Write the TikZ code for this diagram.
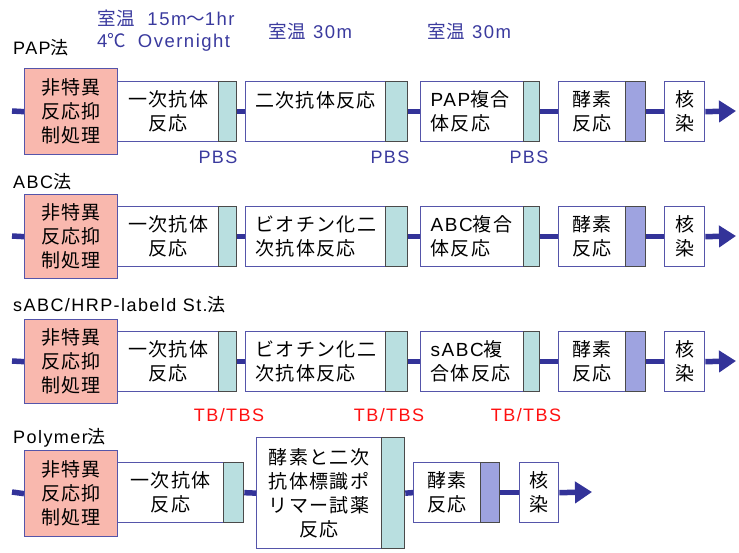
\documentclass[tikz,border=0pt]{standalone}
\usepackage{fontspec}
\setmainfont{Liberation Sans}[LetterSpace=8]
\newfontfamily\jp{Noto Sans CJK JP}[LetterSpace=7]
\usetikzlibrary{arrows.meta}
\newcommand\la[1]{{\rmfamily #1}}
\definecolor{lineblue}{HTML}{333399}
\definecolor{txtblue}{HTML}{3A3A9E}
\definecolor{pinkf}{HTML}{F9B8AE}
\definecolor{tealf}{HTML}{B9DFE0}
\definecolor{purpf}{HTML}{9EA3E0}
\definecolor{boxdraw}{HTML}{5555AA}
\definecolor{bardraw}{HTML}{4A4A4A}
\definecolor{tbred}{HTML}{FF1010}
\tikzset{
  box/.style={draw=boxdraw, line width=1.3pt, fill=white, inner sep=0pt, anchor=north west,
    align=center, font=\jp\fontsize{19}{24}\selectfont},
  pinkbox/.style={box, fill=pinkf},
  lbox/.style={box, align=left, inner xsep=10pt},
  tbar/.style={draw=bardraw, line width=1.3pt, fill=tealf, inner sep=0pt, anchor=north west},
  pbar/.style={tbar, fill=purpf},
  conn/.style={draw=lineblue, line width=5.5pt},
  arr/.style={conn, -{Triangle[length=17pt,width=21pt]}},
  rowlab/.style={inner sep=0pt, anchor=west, font=\fontsize{18}{22}\selectfont},
  toplab/.style={inner sep=0pt, anchor=west, text=txtblue, font=\fontsize{18.5}{22}\selectfont},
  wash/.style={inner sep=0pt, text=txtblue, font=\fontsize{18}{22}\selectfont},
  tbs/.style={inner sep=0pt, text=tbred, font=\fontsize{18}{22}\selectfont}
}
\begin{document}
\begin{tikzpicture}[x=1pt,y=-1pt]
\useasboundingbox (0,0) rectangle (739,552);
% top labels
\node[toplab] (tl1) at (97,18) {{\jp 室温}\hspace{12pt}15m{\jp 〜}1hr};
\node[toplab] (tl2) at (97,42) {4{\jp ℃}\hspace{12pt}Overnight};
\node[toplab] (tl3) at (268,31) {{\jp 室温} 30m};
\node[toplab] (tl4) at (427,31) {{\jp 室温} 30m};
% ---------- Row 1 PAP
\node[rowlab] (r1) at (13,48) {PAP{\jp 法}};
\node[pinkbox, minimum width=93pt, minimum height=86pt] (p1) at (24,68) {非特異\\反応抑\\制処理};
\node[box, minimum width=101pt, minimum height=60pt] (a1) at (117,81) {一次抗体\\反応};
\node[tbar, minimum width=18pt, minimum height=60pt] (a1w) at (218,81) {};
\node[box, minimum width=140pt, minimum height=60pt] (b1) at (245,81) {二次抗体反応\\\mbox{}};
\node[tbar, minimum width=22pt, minimum height=60pt] (b1w) at (385,81) {};
\node[lbox, text width=83pt, minimum width=103pt, minimum height=60pt] (c1) at (420,81) {\la{PAP}複合\\体反応};
\node[tbar, minimum width=16pt, minimum height=60pt] (c1w) at (523,81) {};
\node[box, minimum width=67pt, minimum height=60pt] (d1) at (558,81) {酵素\\反応};
\node[pbar, minimum width=20pt, minimum height=60pt] (d1w) at (625,81) {};
\node[box, minimum width=40pt, minimum height=60pt] (e1) at (664,81) {核\\染};
\coordinate (s1) at (12,111);
\coordinate (z1) at (736,111);
\draw[conn] (s1) -- (p1.west);
\draw[conn] (a1w.east) -- (b1.west);
\draw[conn] (b1w.east) -- (c1.west);
\draw[conn] (c1w.east) -- (d1.west);
\draw[conn] (d1w.east) -- (e1.west);
\draw[arr] (e1.east) -- (z1);
\node[wash] (w1) at (218,157) {PBS};
\node[wash] (w2) at (390,157) {PBS};
\node[wash] (w3) at (529,157) {PBS};
% ---------- Row 2 ABC
\node[rowlab] (r2) at (13,182) {ABC{\jp 法}};
\node[pinkbox, minimum width=93pt, minimum height=84pt] (p2) at (24,194) {非特異\\反応抑\\制処理};
\node[box, minimum width=101pt, minimum height=60pt] (a2) at (117,206) {一次抗体\\反応};
\node[tbar, minimum width=18pt, minimum height=60pt] (a2w) at (218,206) {};
\node[lbox, text width=120pt, minimum width=140pt, minimum height=60pt] (b2) at (245,206) {ビオチン化二\\次抗体反応};
\node[tbar, minimum width=22pt, minimum height=60pt] (b2w) at (385,206) {};
\node[lbox, text width=83pt, minimum width=103pt, minimum height=60pt] (c2) at (420,206) {\la{ABC}複合\\体反応};
\node[tbar, minimum width=16pt, minimum height=60pt] (c2w) at (523,206) {};
\node[box, minimum width=67pt, minimum height=60pt] (d2) at (558,206) {酵素\\反応};
\node[pbar, minimum width=20pt, minimum height=60pt] (d2w) at (625,206) {};
\node[box, minimum width=40pt, minimum height=60pt] (e2) at (664,206) {核\\染};
\coordinate (s2) at (12,236);
\coordinate (z2) at (736,236);
\draw[conn] (s2) -- (p2.west);
\draw[conn] (a2w.east) -- (b2.west);
\draw[conn] (b2w.east) -- (c2.west);
\draw[conn] (c2w.east) -- (d2.west);
\draw[conn] (d2w.east) -- (e2.west);
\draw[arr] (e2.east) -- (z2);
% ---------- Row 3 sABC
\node[rowlab] (r3) at (13,305) {sABC/HRP-labeld St.{\jp 法}};
\node[pinkbox, minimum width=93pt, minimum height=84pt] (p3) at (24,319) {非特異\\反応抑\\制処理};
\node[box, minimum width=101pt, minimum height=60pt] (a3) at (117,331) {一次抗体\\反応};
\node[tbar, minimum width=18pt, minimum height=60pt] (a3w) at (218,331) {};
\node[lbox, text width=120pt, minimum width=140pt, minimum height=60pt] (b3) at (245,331) {ビオチン化二\\次抗体反応};
\node[tbar, minimum width=22pt, minimum height=60pt] (b3w) at (385,331) {};
\node[lbox, text width=83pt, minimum width=103pt, minimum height=60pt] (c3) at (420,331) {\la{sABC}複\\合体反応};
\node[tbar, minimum width=16pt, minimum height=60pt] (c3w) at (523,331) {};
\node[box, minimum width=67pt, minimum height=60pt] (d3) at (558,331) {酵素\\反応};
\node[pbar, minimum width=20pt, minimum height=60pt] (d3w) at (625,331) {};
\node[box, minimum width=40pt, minimum height=60pt] (e3) at (664,331) {核\\染};
\coordinate (s3) at (12,361);
\coordinate (z3) at (736,361);
\draw[conn] (s3) -- (p3.west);
\draw[conn] (a3w.east) -- (b3.west);
\draw[conn] (b3w.east) -- (c3.west);
\draw[conn] (c3w.east) -- (d3.west);
\draw[conn] (d3w.east) -- (e3.west);
\draw[arr] (e3.east) -- (z3);
\node[tbs] (x1) at (229,415) {TB/TBS};
\node[tbs] (x2) at (389,415) {TB/TBS};
\node[tbs] (x3) at (526,415) {TB/TBS};
% ---------- Row 4 Polymer
\node[rowlab] (r4) at (13,438) {Polymer{\jp 法}};
\node[pinkbox, minimum width=93pt, minimum height=86pt] (p4) at (24,450) {非特異\\反応抑\\制処理};
\node[box, minimum width=106pt, minimum height=60pt] (a4) at (117,462) {一次抗体\\反応};
\node[tbar, minimum width=20pt, minimum height=60pt] (a4w) at (223,462) {};
\node[box, minimum width=125pt, minimum height=111pt] (b4) at (256,437) {酵素と二次\\抗体標識ポ\\リマー試薬\\反応};
\node[tbar, minimum width=23pt, minimum height=111pt] (b4w) at (381,437) {};
\node[box, minimum width=67pt, minimum height=60pt] (d4) at (413,462) {酵素\\反応};
\node[pbar, minimum width=19pt, minimum height=60pt] (d4w) at (480,462) {};
\node[box, minimum width=39pt, minimum height=60pt] (e4) at (519,462) {核\\染};
\coordinate (s4) at (12,492);
\coordinate (z4) at (592,492);
\draw[conn] (s4) -- (p4.west);
\draw[conn] (a4w.east) -- (b4.west);
\draw[conn] (b4w.east) -- (d4.west);
\draw[conn] (d4w.east) -- (e4.west);
\draw[arr] (e4.east) -- (z4);
\end{tikzpicture}
\end{document}
